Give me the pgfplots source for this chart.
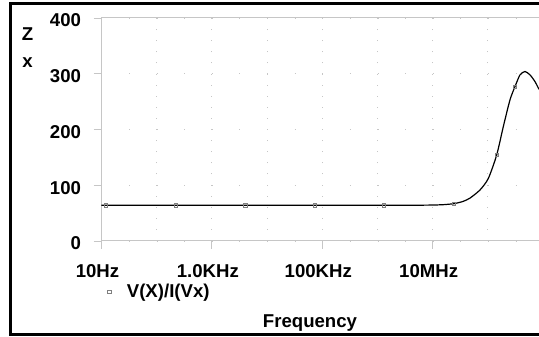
\documentclass[border=0pt]{standalone}
\usepackage{fontspec}
\setmainfont{Liberation Sans}
\usepackage{pgfplots}
\pgfplotsset{compat=1.18}
\newcommand{\lbl}{\fontsize{18.6}{26.7}\selectfont\bfseries}
\begin{document}
\begin{tikzpicture}[x=1pt,y=1pt]
\useasboundingbox (-101.5,-96) rectangle (437.5,241);
\begin{axis}[
  at={(0,0)}, anchor=south west,
  scale only axis, width=437.5pt, height=223pt,
  xmode=log, xmin=10, xmax=8.433e8, ymin=0, ymax=400,
  axis x line*=bottom, axis y line*=left,
  axis line style={gray!45, line width=1pt},
  tick align=outside, major tick length=8pt,
  major tick style={gray!45, line width=0.9pt},
  minor tick length=0pt,
  xtick={10,1e3,1e5,1e7},
  xticklabels={10Hz,1.0KHz,100KHz,10MHz},
  minor xtick={100,1e4,1e6,1e8},
  ytick={0,100,200,300,400},
  /pgf/number format/assume math mode=true,
  xmajorgrids, xminorgrids, ymajorgrids,
  major x grid style={gray!45, line width=0.9pt, dash pattern=on 0.9pt off 10.2pt},
  minor x grid style={gray!45, line width=0.9pt, dash pattern=on 0.9pt off 10.2pt},
  major y grid style={gray!45, line width=0.9pt, dash pattern=on 0.9pt off 26.7pt},
  ticklabel style={font=\lbl, text=black},
  xticklabel style={anchor=base, xshift=-4pt, yshift=-29pt},
  yticklabel style={anchor=east, xshift=-9pt, yshift=-2.5pt},
  every axis y label/.style={at={(rel axis cs:0,1)}, xshift=-74pt, yshift=-10pt,
    anchor=north, align=center, inner sep=0pt, font=\lbl},
  ylabel={Z\\x},
  every axis x label/.style={at={(rel axis cs:0,0)}, xshift=208.5pt, yshift=-87pt,
    anchor=base, inner sep=0pt, font=\lbl},
  xlabel={Frequency},
  legend style={at={(rel axis cs:0,0)}, anchor=west, yshift=-51pt, xshift=3pt,
    draw=none, fill=none, font=\lbl, column sep=14pt},
  legend image code/.code={\draw[#1] plot coordinates {(0pt,0pt)};},
  clip=false,
]
\addplot[black, line width=1.2pt, smooth, tension=0.4, forget plot] coordinates {
 (10,64) (100,64) (1e3,64) (1e4,64) (1e5,64) (1e6,64) (5e6,64.2) (1e7,64.5)
 (1.585e7,65.2) (2.432e7,67) (3.548e7,71) (4.742e7,77) (7.194e7,91.5)
 (1.016e8,112) (1.442e8,154) (1.901e8,205) (2.512e8,253) (3.097e8,277)
 (3.819e8,298) (4.699e8,304) (5.794e8,298) (7.129e8,286) (8.433e8,272)
};
\addplot[only marks, gray, mark=square, mark size=1.6pt, mark options={line width=0.6pt}] coordinates {
 (12.0,64) (218.8,64) (4027,64) (7.379e4,64) (1.318e6,64)
 (2.432e7,67) (1.442e8,154) (3.097e8,277)
};
\addlegendentry{V(X)/I(Vx)}
\draw[gray!45, line width=1pt] (rel axis cs:0,1) -- (rel axis cs:1,1);
\end{axis}
\draw[black, line width=2.6pt] (470,237.3) -- (-91,237.3) -- (-91,-93.8) -- (470,-93.8);
\end{tikzpicture}
\end{document}
